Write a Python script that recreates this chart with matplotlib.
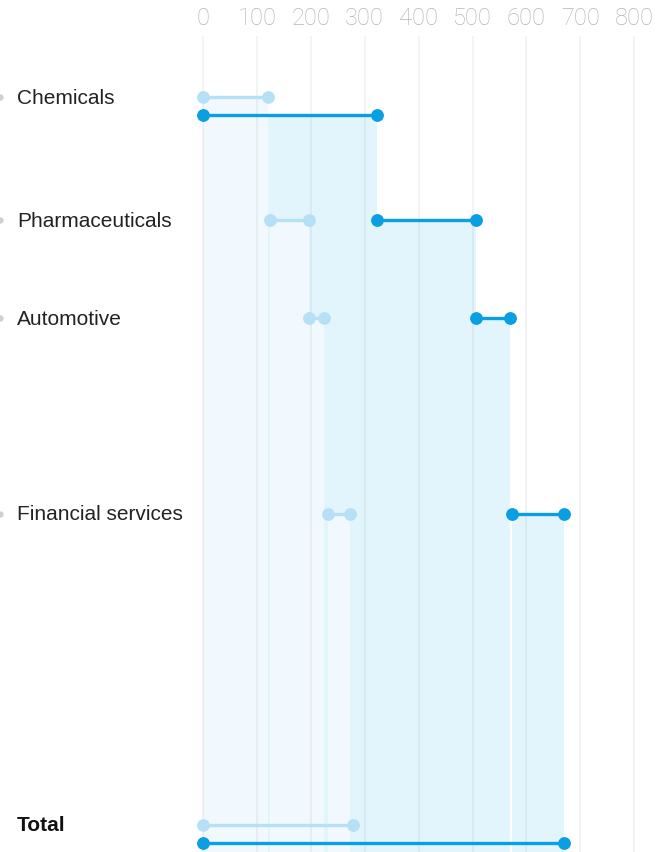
import matplotlib
matplotlib.use("Agg")
import matplotlib.pyplot as plt
from matplotlib.patches import Rectangle

# ---- data ----
categories = ["Chemicals", "Pharmaceuticals", "Automotive", "Financial services"]
prev_start = [0, 124, 197, 232]
prev_end = [121, 197, 224, 273]
curr_start = [0, 323, 506, 573]
curr_end = [323, 506, 569, 670]
total_label = "Total"
total_prev = [0, 278]
total_curr = [0, 670]
tick_values = [0, 100, 200, 300, 400, 500, 600, 700, 800]

# ---- layout (pixel rows) ----
W, H = 664, 853
label_rows = [98, 221, 319, 515]
prev_rows = [98, 221, 319, 515]
curr_rows = [116, 221, 319, 515]
total_label_row = 826
total_prev_row = 826
total_curr_row = 844

x0_px = 203
px_per_unit = 0.539
xmin = -x0_px / px_per_unit
xmax = (W - x0_px) / px_per_unit

DARK = "#0a9fe2"
LIGHT = "#b6e0f5"
DARK_FILL = "#e2f4fc"
LIGHT_FILL = "#f1f9fe"

fig = plt.figure(figsize=(W / 100, H / 100), dpi=100)
ax = fig.add_axes([0, 0, 1, 1])
ax.set_xlim(xmin, xmax)
ax.set_ylim(H, 0)
ax.axis("off")

# shaded columns (current first, previous on top)
for s, e, r in zip(curr_start, curr_end, curr_rows):
    ax.add_patch(Rectangle((s, r), e - s, H - r, facecolor=DARK_FILL, edgecolor="none", zorder=1))
for s, e, r in zip(prev_start, prev_end, prev_rows):
    ax.add_patch(Rectangle((s, r), e - s, H - r, facecolor=LIGHT_FILL, edgecolor="none", zorder=2))

# gridlines and tick labels
for t in tick_values:
    ax.plot([t, t], [38, H], color=(0.45, 0.5, 0.55), alpha=0.10, lw=1.3, zorder=3)
    ax.text(t, 18, str(t), ha="center", va="center", fontsize=17,
            color="#b5b5b5", family=["Roboto", "DejaVu Sans"], fontweight="light", zorder=5)

# dumbbells
for s, e, r in zip(prev_start, prev_end, prev_rows):
    ax.plot([s, e], [r, r], color=LIGHT, lw=2.4, marker="o", ms=8.2,
            solid_capstyle="butt", zorder=6)
for s, e, r in zip(curr_start, curr_end, curr_rows):
    ax.plot([s, e], [r, r], color=DARK, lw=2.4, marker="o", ms=8.2,
            solid_capstyle="butt", zorder=7)
ax.plot(total_prev, [total_prev_row] * 2, color=LIGHT, lw=2.4, marker="o", ms=8.2, zorder=6)
ax.plot(total_curr, [total_curr_row] * 2, color=DARK, lw=2.4, marker="o", ms=8.2, zorder=7)

# labels
label_x = xmin + 17 / px_per_unit
for c, r in zip(categories, label_rows):
    ax.text(label_x, r, c, ha="left", va="center", fontsize=15,
            color="#222222", family="Liberation Sans")
    ax.plot([xmin], [r], marker="o", ms=3.5, color="#cfcfcf", clip_on=True, zorder=4)
ax.text(label_x, total_label_row, total_label, ha="left", va="center", fontsize=15,
        color="#111111", fontweight="bold", family="Liberation Sans")

fig.savefig("out.png", dpi=100)
